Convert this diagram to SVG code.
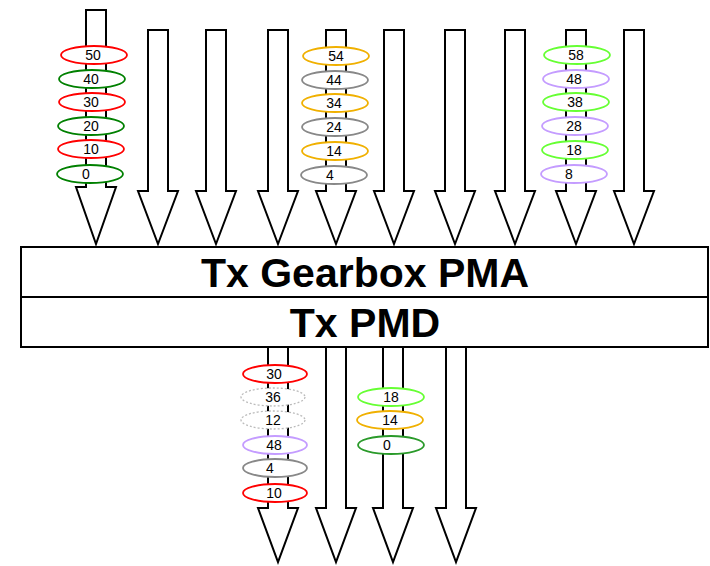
<svg xmlns="http://www.w3.org/2000/svg" width="710" height="566" viewBox="0 0 710 566">
<style>
.arr{fill:#fff;stroke:#000;stroke-width:2;stroke-linejoin:miter}
.box{fill:#fff;stroke:#000;stroke-width:2}
.big{font-family:"Liberation Sans",Arial,sans-serif;font-weight:bold;font-size:41px;text-anchor:middle;fill:#000}
.lbl{font-family:"Liberation Sans",Arial,sans-serif;font-size:14px;text-anchor:middle;fill:#000}
ellipse{fill:#fff;stroke-width:1.8}
.r{stroke:#ff0000}.g{stroke:#008000}.o{stroke:#f0b000}.y{stroke:#888888}.lg{stroke:#66ff33}.p{stroke:#c49cff}.d{stroke:#bbbbbb;stroke-dasharray:2 2;stroke-width:1.3}.dg{stroke:#2a9a2a}
</style>
<rect width="710" height="566" fill="#fff"/>
<g id="connectors">
<polygon class="arr" points="86,10 106,10 106,187 116,187 96,244 76,187 86,187"/>
<polygon class="arr" points="148,30 168,30 168,191 178,191 158,244 138,191 148,191"/>
<polygon class="arr" points="206,30 226,30 226,191 236,191 216,244 196,191 206,191"/>
<polygon class="arr" points="268,30 288,30 288,191 298,191 278,244 258,191 268,191"/>
<polygon class="arr" points="326,30 346,30 346,191 356,191 336,244 316,191 326,191"/>
<polygon class="arr" points="384,30 404,30 404,191 414,191 394,244 374,191 384,191"/>
<polygon class="arr" points="445,30 465,30 465,191 475,191 455,244 435,191 445,191"/>
<polygon class="arr" points="505,30 525,30 525,191 535,191 515,244 495,191 505,191"/>
<polygon class="arr" points="566,30 586,30 586,191 596,191 576,244 556,191 566,191"/>
<polygon class="arr" points="624,30 644,30 644,191 654,191 634,244 614,191 624,191"/>
<polygon class="arr" points="268,347 288,347 288,508 298,508 278,562 258,508 268,508"/>
<polygon class="arr" points="326,347 346,347 346,508 356,508 336,562 316,508 326,508"/>
<polygon class="arr" points="383,347 403,347 403,508 413,508 393,562 373,508 383,508"/>
<polygon class="arr" points="446,347 466,347 466,508 476,508 456,562 436,508 446,508"/>
</g>
<g id="gearbox">
<rect class="box" x="21" y="247" width="687" height="50"/>
<text class="big" x="365" y="287">Tx Gearbox PMA</text>
</g>
<g id="pmd">
<rect class="box" x="21" y="297" width="687" height="50"/>
<text class="big" x="365" y="337">Tx PMD</text>
</g>
<g id="lane1">
<ellipse class="r" cx="94" cy="55" rx="33" ry="9"/><text class="lbl" x="93" y="60">50</text>
<ellipse class="g" cx="92" cy="79" rx="33" ry="9"/><text class="lbl" x="91" y="84">40</text>
<ellipse class="r" cx="92" cy="102" rx="33" ry="9"/><text class="lbl" x="91" y="107">30</text>
<ellipse class="g" cx="91" cy="126" rx="33" ry="9"/><text class="lbl" x="91" y="131">20</text>
<ellipse class="r" cx="91" cy="149" rx="33" ry="9"/><text class="lbl" x="91" y="154">10</text>
<ellipse class="g" cx="90" cy="174" rx="33" ry="9"/><text class="lbl" x="86" y="179">0</text>
</g>
<g id="lane5">
<ellipse class="o" cx="336" cy="56" rx="33" ry="9"/><text class="lbl" x="336" y="61">54</text>
<ellipse class="y" cx="335" cy="80" rx="33" ry="9"/><text class="lbl" x="334" y="85">44</text>
<ellipse class="o" cx="335" cy="103" rx="33" ry="9"/><text class="lbl" x="334" y="108">34</text>
<ellipse class="y" cx="335" cy="127" rx="33" ry="9"/><text class="lbl" x="334" y="132">24</text>
<ellipse class="o" cx="335" cy="151" rx="33" ry="9"/><text class="lbl" x="334" y="156">14</text>
<ellipse class="y" cx="334" cy="175" rx="33" ry="9"/><text class="lbl" x="330" y="180">4</text>
</g>
<g id="lane9">
<ellipse class="lg" cx="577" cy="55" rx="33" ry="9"/><text class="lbl" x="576" y="60">58</text>
<ellipse class="p" cx="576" cy="79" rx="33" ry="9"/><text class="lbl" x="574" y="84">48</text>
<ellipse class="lg" cx="576" cy="102" rx="33" ry="9"/><text class="lbl" x="575" y="107">38</text>
<ellipse class="p" cx="575" cy="126" rx="33" ry="9"/><text class="lbl" x="574" y="131">28</text>
<ellipse class="lg" cx="575" cy="150" rx="33" ry="9"/><text class="lbl" x="574" y="155">18</text>
<ellipse class="p" cx="574" cy="174" rx="33" ry="9"/><text class="lbl" x="569" y="179">8</text>
</g>
<g id="out1">
<ellipse class="r" cx="275" cy="374" rx="32" ry="9"/><text class="lbl" x="274" y="379">30</text>
<ellipse class="d" cx="273" cy="397" rx="32" ry="9"/><text class="lbl" x="273" y="402">36</text>
<ellipse class="d" cx="273" cy="420" rx="32" ry="9"/><text class="lbl" x="273" y="425">12</text>
<ellipse class="p" cx="275" cy="445" rx="32" ry="9"/><text class="lbl" x="274" y="450">48</text>
<ellipse class="y" cx="275" cy="468" rx="32" ry="9"/><text class="lbl" x="270" y="473">4</text>
<ellipse class="r" cx="275" cy="493" rx="32" ry="9"/><text class="lbl" x="274" y="498">10</text>
</g>
<g id="out3">
<ellipse class="lg" cx="391" cy="397" rx="33" ry="9"/><text class="lbl" x="391" y="402">18</text>
<ellipse class="o" cx="390" cy="420" rx="33" ry="9"/><text class="lbl" x="390" y="425">14</text>
<ellipse class="dg" cx="391" cy="445" rx="33" ry="9"/><text class="lbl" x="387" y="450">0</text>
</g>
</svg>
